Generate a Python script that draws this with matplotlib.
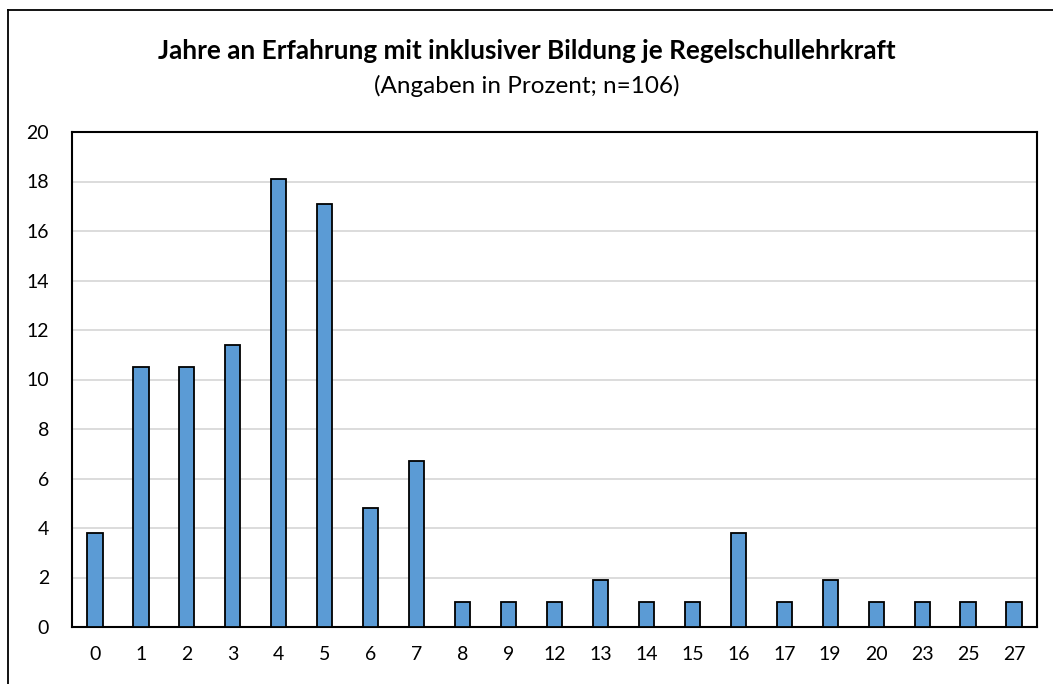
import matplotlib.pyplot as plt
from matplotlib.lines import Line2D

# Jahre an Erfahrung (Kategorien) und Anteile in Prozent
jahre = ['0', '1', '2', '3', '4', '5', '6', '7', '8', '9', '12', '13', '14',
         '15', '16', '17', '19', '20', '23', '25', '27']
prozent = [3.8, 10.5, 10.5, 11.4, 18.1, 17.1, 4.8, 6.7, 1.0, 1.0, 1.0, 1.9,
           1.0, 1.0, 3.8, 1.0, 1.9, 1.0, 1.0, 1.0, 1.0]
y_ticks = [0, 2, 4, 6, 8, 10, 12, 14, 16, 18, 20]

plt.rcParams['font.family'] = ['Lato', 'DejaVu Sans']

W, H = 1053, 684
fig = plt.figure(figsize=(W / 100, H / 100), dpi=100)
ax = fig.add_axes([72 / W, 1 - 627 / H, (1037 - 72) / W, (627 - 132) / H])

x = range(len(jahre))
ax.bar(x, prozent, width=0.33, color='#5B9BD5', edgecolor='black',
       linewidth=1.3, zorder=3)

ax.set_xlim(-0.5, len(jahre) - 0.5)
ax.set_ylim(0, 20)
ax.set_yticks(y_ticks)
ax.set_xticks(list(x))
ax.set_xticklabels(jahre)
ax.tick_params(axis='both', length=0, labelsize=14, colors='black')
ax.tick_params(axis='x', pad=14)
ax.tick_params(axis='y', pad=16.5)
ax.grid(axis='y', color='#d9d9d9', linewidth=1.3, zorder=0)
for s in ax.spines.values():
    s.set_color('black')
    s.set_linewidth(1.5)

fig.text(0.5, 1 - 51 / H, 'Jahre an Erfahrung mit inklusiver Bildung je Regelschullehrkraft',
         ha='center', va='center', fontsize=18.8, fontweight='bold')
fig.text(0.5, 1 - 86 / H, '(Angaben in Prozent; n=106)',
         ha='center', va='center', fontsize=17.5)

# Rahmen des Diagrammbereichs (links und oben sichtbar)
fig.add_artist(Line2D([8 / W, 8 / W], [0, 1 - 10 / H], color='black', linewidth=1.3,
                      transform=fig.transFigure))
fig.add_artist(Line2D([8 / W, 1], [1 - 10 / H, 1 - 10 / H], color='black', linewidth=1.3,
                      transform=fig.transFigure))

fig.savefig('out.png', dpi=100)
